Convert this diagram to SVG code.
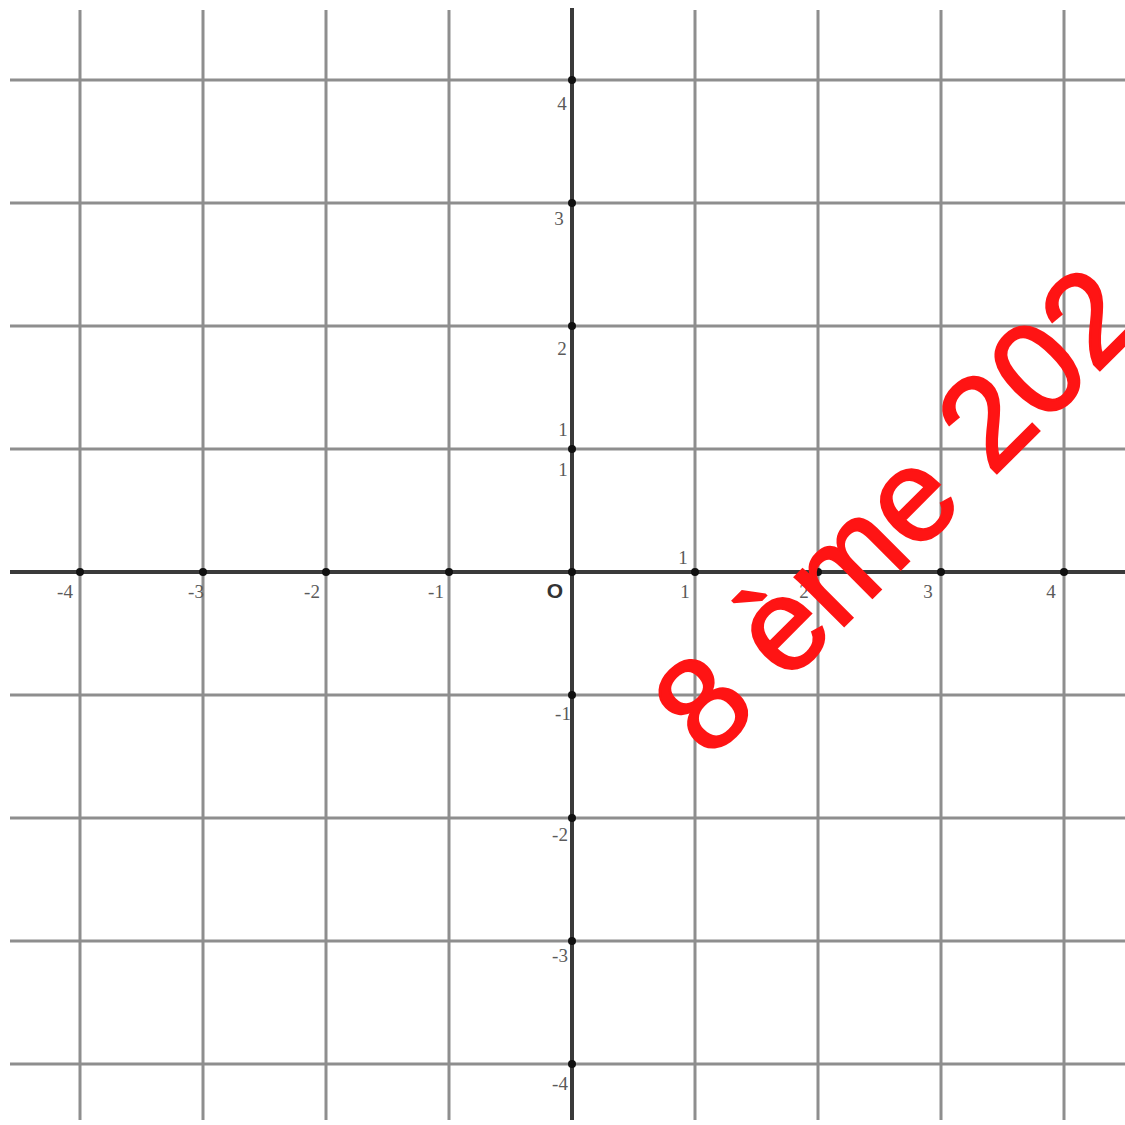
<svg xmlns="http://www.w3.org/2000/svg" width="1125" height="1125" viewBox="0 0 1125 1125">
  <style>
    .grid { stroke: #8e8e8e; stroke-width: 3; fill: none; }
    .axis { stroke: #3a3a3a; stroke-width: 4; fill: none; }
    .dot { fill: #111; }
    .lbl { font-family: "Liberation Serif", serif; font-size: 19px; fill: #5a5a5a; text-anchor: middle; }
    .origin { font-family: "Liberation Sans", Arial, sans-serif; font-size: 21px; font-weight: bold; fill: #333; text-anchor: middle; }
    .wm { font-family: "Liberation Sans", Arial, sans-serif; font-size: 131px; fill: #ff1414; stroke: #ff1414; stroke-width: 2.5; }
  </style>
  <rect width="1125" height="1125" fill="#ffffff"/>
  <g id="grid">
    <path class="grid" d="M80 10V1120M203 10V1120M326 10V1120M449 10V1120M695 10V1120M818 10V1120M941 10V1120M1064 10V1120"/>
    <path class="grid" d="M10 80H1125M10 203H1125M10 326H1125M10 449H1125M10 695H1125M10 818H1125M10 941H1125M10 1064H1125"/>
  </g>
  <g id="axes">
    <path class="axis" d="M10 572H1125"/>
    <path class="axis" d="M572 8V1120"/>
  </g>
  <g id="ticks">
    <circle class="dot" cx="80" cy="572" r="4"/>
    <circle class="dot" cx="203" cy="572" r="4"/>
    <circle class="dot" cx="326" cy="572" r="4"/>
    <circle class="dot" cx="449" cy="572" r="4"/>
    <circle class="dot" cx="572" cy="572" r="4"/>
    <circle class="dot" cx="695" cy="572" r="4"/>
    <circle class="dot" cx="818" cy="572" r="4"/>
    <circle class="dot" cx="941" cy="572" r="4"/>
    <circle class="dot" cx="1064" cy="572" r="4"/>
    <circle class="dot" cx="572" cy="80" r="4"/>
    <circle class="dot" cx="572" cy="203" r="4"/>
    <circle class="dot" cx="572" cy="326" r="4"/>
    <circle class="dot" cx="572" cy="449" r="4"/>
    <circle class="dot" cx="572" cy="695" r="4"/>
    <circle class="dot" cx="572" cy="818" r="4"/>
    <circle class="dot" cx="572" cy="941" r="4"/>
    <circle class="dot" cx="572" cy="1064" r="4"/>
  </g>
  <g id="x-labels">
    <text class="lbl" x="65" y="598">-4</text>
    <text class="lbl" x="196" y="598">-3</text>
    <text class="lbl" x="312" y="598">-2</text>
    <text class="lbl" x="436" y="598">-1</text>
    <text class="origin" x="555" y="598">O</text>
    <text class="lbl" x="685" y="598">1</text>
    <text class="lbl" x="683" y="564">1</text>
    <text class="lbl" x="804" y="598">2</text>
    <text class="lbl" x="928" y="598">3</text>
    <text class="lbl" x="1051" y="598">4</text>
  </g>
  <g id="y-labels">
    <text class="lbl" x="562" y="110">4</text>
    <text class="lbl" x="559" y="225">3</text>
    <text class="lbl" x="562" y="355">2</text>
    <text class="lbl" x="563" y="436">1</text>
    <text class="lbl" x="563" y="476">1</text>
    <text class="lbl" x="563" y="720">-1</text>
    <text class="lbl" x="560" y="841">-2</text>
    <text class="lbl" x="560" y="962">-3</text>
    <text class="lbl" x="560" y="1090">-4</text>
  </g>
  <g id="watermark">
    <text class="wm" transform="translate(709 761) rotate(-45)">8 ème 202</text>
  </g>
</svg>
